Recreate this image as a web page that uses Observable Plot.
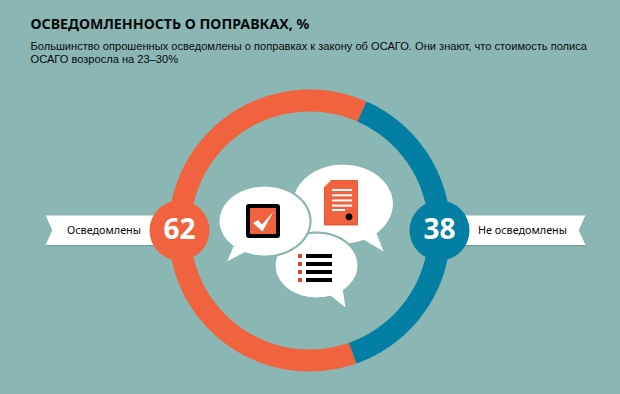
<!DOCTYPE html>
<html><head><meta charset="utf-8">
<script src="https://cdn.jsdelivr.net/npm/d3@7"></script>
<script src="https://cdn.jsdelivr.net/npm/@observablehq/plot@0.6"></script>
<style>html,body{margin:0;padding:0;background:#8ab7b3}svg{display:block}</style>
</head><body><div id="c"></div>
<script>
const categories = ["Осведомлены", "Не осведомлены"];
const shares = [62, 38];
const sliceColors = ["#f1623e", "#047fa4"];
const titleText = "ОСВЕДОМЛЕННОСТЬ О ПОПРАВКАХ, %";
const subtitleLines = ["Большинство опрошенных осведомлены о поправках к закону об ОСАГО. Они знают, что стоимость полиса", "ОСАГО возросла на 23–30%"];
const bg = "#8ab7b3", ink = "#0a0a0a", orange = "#f1623e", white = "#ffffff";
const cx = 309, cy = 230, ringR = 130, blueStart = 23.8;

const polar = (deg, r) => [cx + r * Math.sin(deg * Math.PI / 180), cy - r * Math.cos(deg * Math.PI / 180)];
const arcPts = (from, span) => d3.range(0, 121).map(i => polar(from + span * i / 120, ringR));
const blueSpan = shares[1] * 3.6, redSpan = shares[0] * 3.6;
const arcs = [arcPts(blueStart + blueSpan, redSpan), arcPts(blueStart, blueSpan)];

const ellipse = (x, y, rx, ry) => d3.range(0, 97).map(i => [x + rx * Math.cos(i * Math.PI / 48), y + ry * Math.sin(i * Math.PI / 48)]);
const bubble2 = {e: [342.5, 203.5, 51, 40.5], tail: [[363, 239], [383, 251], [375.7, 232]]};
const bubble3 = {e: [316, 265, 42, 33], tail: [[330, 295], [345, 307], [342.3, 290]]};
const bubble1 = {e: [264, 220.5, 46, 35.5], tail: [[232.7, 246.7], [226.7, 261], [244, 251.7]]};

const shape = (pts, o) => Plot.line(pts, {x: d => d[0], y: d => d[1], curve: "linear-closed", ...o});
const bubbleMarks = b => [
  shape(ellipse(...b.e), {fill: white, stroke: bg, strokeWidth: 2.2}),
  shape([...b.tail, [b.e[0], b.e[1]]], {fill: white})
];
const docShape = [[331, 180], [357, 180], [357, 224.5], [324, 224.5], [324, 187]];
const docLines = [190, 195.3, 200.4, 205.6, 210];
const checkMark = [[252.7, 222.7], [257.5, 219.5], [261.5, 224], [273, 211], [262, 231]];
const listRows = [256, 264, 272, 280];
const ribbonL = [[45, 215], [160, 215], [160, 244.5], [45, 244.5], [51.7, 230]];
const ribbonR = [[460, 215], [585, 215], [578.3, 230], [585, 244.5], [460, 244.5]];
const shift = (pts, dy) => pts.map(([x, y]) => [x, y + dy]);
const bigFont = "'Noto Sans','DejaVu Sans',sans-serif";

const chart = Plot.plot({
  width: 620, height: 394, margin: 0,
  x: {domain: [0, 620], range: [0, 620], axis: null},
  y: {domain: [0, 394], range: [0, 394], axis: null},
  style: {background: bg},
  marks: [
    ...arcs.map((a, i) => Plot.line(a, {x: d => d[0], y: d => d[1], stroke: sliceColors[i], strokeWidth: 22, strokeLinecap: "butt", curve: "linear"})),
    shape(shift(ribbonL, 1.2), {fill: "#6f9f9b"}),
    shape(shift(ribbonR, 1.2), {fill: "#6f9f9b"}),
    shape(ribbonL, {fill: white}),
    shape(ribbonR, {fill: white}),
    Plot.dot([0, 1], {x: i => [179, 439][i], y: () => cy, r: 30, fill: i => sliceColors[i]}),
    ...bubbleMarks(bubble2),
    ...bubbleMarks(bubble3),
    ...bubbleMarks(bubble1),
    // document icon
    shape(docShape, {fill: orange, stroke: "#e8431c", strokeWidth: 0.8}),
    Plot.rect(docLines, {x1: 332, x2: (d, i) => i === 4 ? 345 : 352, y1: d => d - 1, y2: d => d + 1, fill: white}),
    Plot.dot([0], {x: () => 348.5, y: () => 216.3, r: 3.4, fill: "#000"}),
    // checkbox icon
    Plot.rect([0], {x1: 246, x2: 280, y1: 204, y2: 238, fill: "#000", rx: 3}),
    Plot.rect([0], {x1: 250, x2: 276, y1: 208, y2: 234, fill: orange}),
    shape(checkMark, {fill: white}),
    // list icon
    Plot.rect(listRows, {x1: 298, x2: 302, y1: d => d - 2, y2: d => d + 2, fill: "#e8431c"}),
    Plot.rect(listRows, {x1: 306, x2: 332, y1: d => d - 2, y2: d => d + 2, fill: "#000"}),
    // texts
    Plot.text([titleText], {x: () => 30, y: () => 24, text: d => d, textAnchor: "start", fontFamily: "'Noto Sans',sans-serif", fontWeight: 700, fontSize: 14.2, fill: ink}),
    Plot.text(subtitleLines, {x: () => 30, y: (d, i) => 45.5 + i * 13.5, text: d => d, textAnchor: "start", fontFamily: "'Liberation Sans',sans-serif", fontSize: 11.1, fill: ink}),
    Plot.text(categories, {x: (d, i) => [103.5, 522][i], y: () => 230, text: d => d, fontFamily: "'Noto Sans',sans-serif", fontSize: 10.8, fill: ink}),
    Plot.text(shares, {x: (d, i) => [179, 439][i], y: () => 229.5, text: d => String(d), fontFamily: bigFont, fontWeight: 700, fontSize: 28, fill: white})
  ]
});
document.getElementById("c").append(chart);
</script></body></html>
